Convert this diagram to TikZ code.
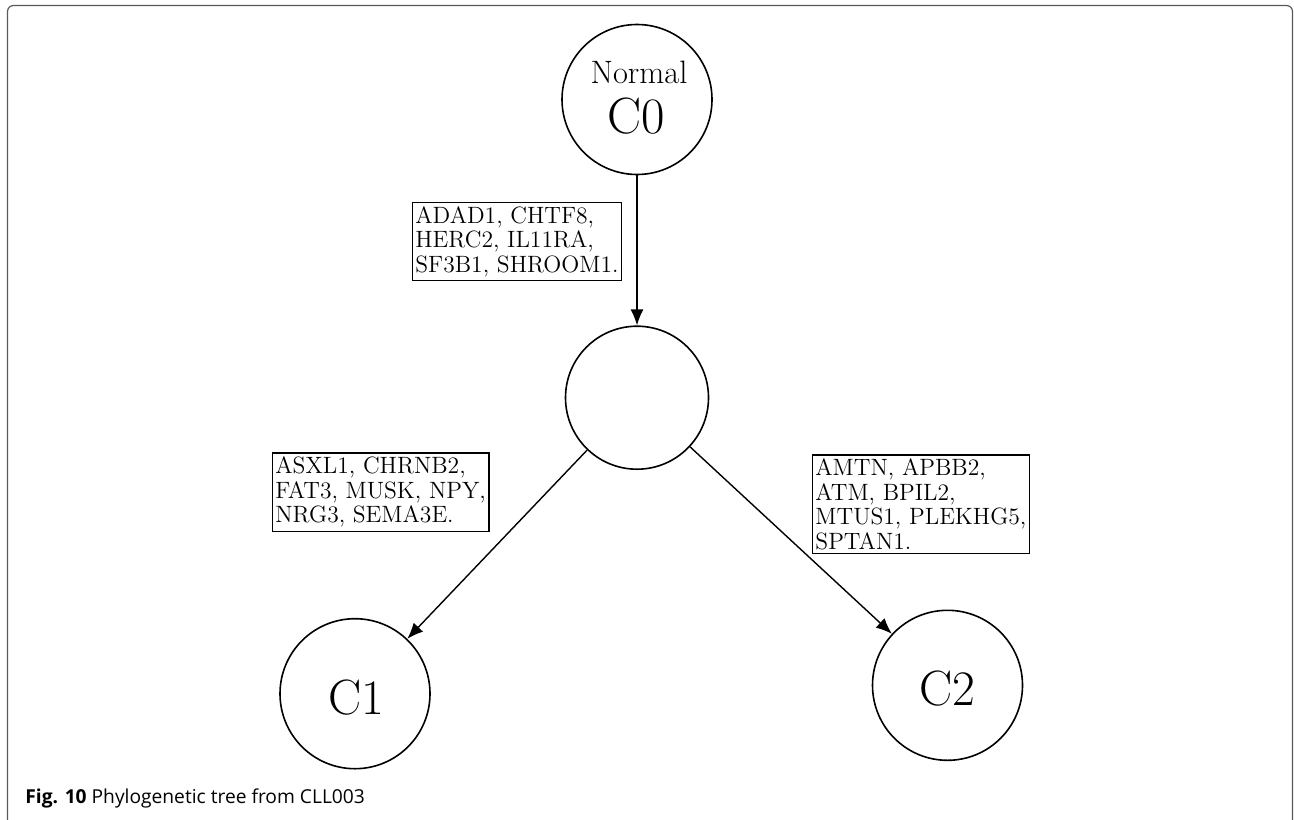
\documentclass[tikz,border=0pt]{standalone}
\usepackage{fontspec}
\newfontfamily\capfont{Open Sans}
\usetikzlibrary{arrows.meta}

\begin{document}
\begin{tikzpicture}[x=0.5pt,y=-0.5pt,
  clone/.style={draw,circle,line width=0.8pt,inner sep=0pt},
  genes/.style={draw,line width=0.7pt,align=left,anchor=north west,inner xsep=1.5pt,inner ysep=2pt,font=\fontsize{11.8}{12.2}\selectfont},
  edge/.style={line width=0.7pt,-{Latex[length=8pt,width=6.5pt]}}]
\useasboundingbox (0,0) rectangle (1294,819);
\draw[gray!70!black,line width=0.6pt,rounded corners=3pt] (7.5,5.5) rectangle (1292.5,840);
\node[clone,minimum size=75pt] (C0) at (637,99.5) {};
\node[anchor=base,font=\fontsize{16.2}{16}\selectfont] (C0name) at (639,83) {Normal};
\node[anchor=base,font=\fontsize{25.5}{25}\selectfont] (C0lab) at (636,133) {C0};
\node[clone,minimum size=71.5pt] (M) at (637,397.7) {};
\node[clone,minimum size=75pt] (C1) at (355,693.7) {};
\node[anchor=base,font=\fontsize{24.8}{25}\selectfont] (C1lab) at (356,714) {C1};
\node[clone,minimum size=75pt] (C2) at (947.5,685.3) {};
\node[anchor=base,font=\fontsize{24.8}{25}\selectfont] (C2lab) at (947,705.7) {C2};
\draw[edge] (C0)--(M);
\draw[edge] (M)--(C1);
\draw[edge] (M)--(C2);
\node[genes] (g0) at (411.7,201.7) {ADAD1, CHTF8,\\HERC2, IL11RA,\\SF3B1, SHROOM1.};
\node[genes] (g1) at (271.7,452.3) {ASXL1, CHRNB2,\\FAT3, MUSK, NPY,\\NRG3, SEMA3E.};
\node[genes] (g2) at (811.7,454.3) {AMTN, APBB2,\\ATM, BPIL2,\\MTUS1, PLEKHG5,\\SPTAN1.};
\node[anchor=base west,inner sep=0pt,font=\capfont\fontsize{9.6}{11}\selectfont] (cap) at (25,803) {\textbf{Fig. 10} Phylogenetic tree from CLL003};
\end{tikzpicture}
\end{document}
